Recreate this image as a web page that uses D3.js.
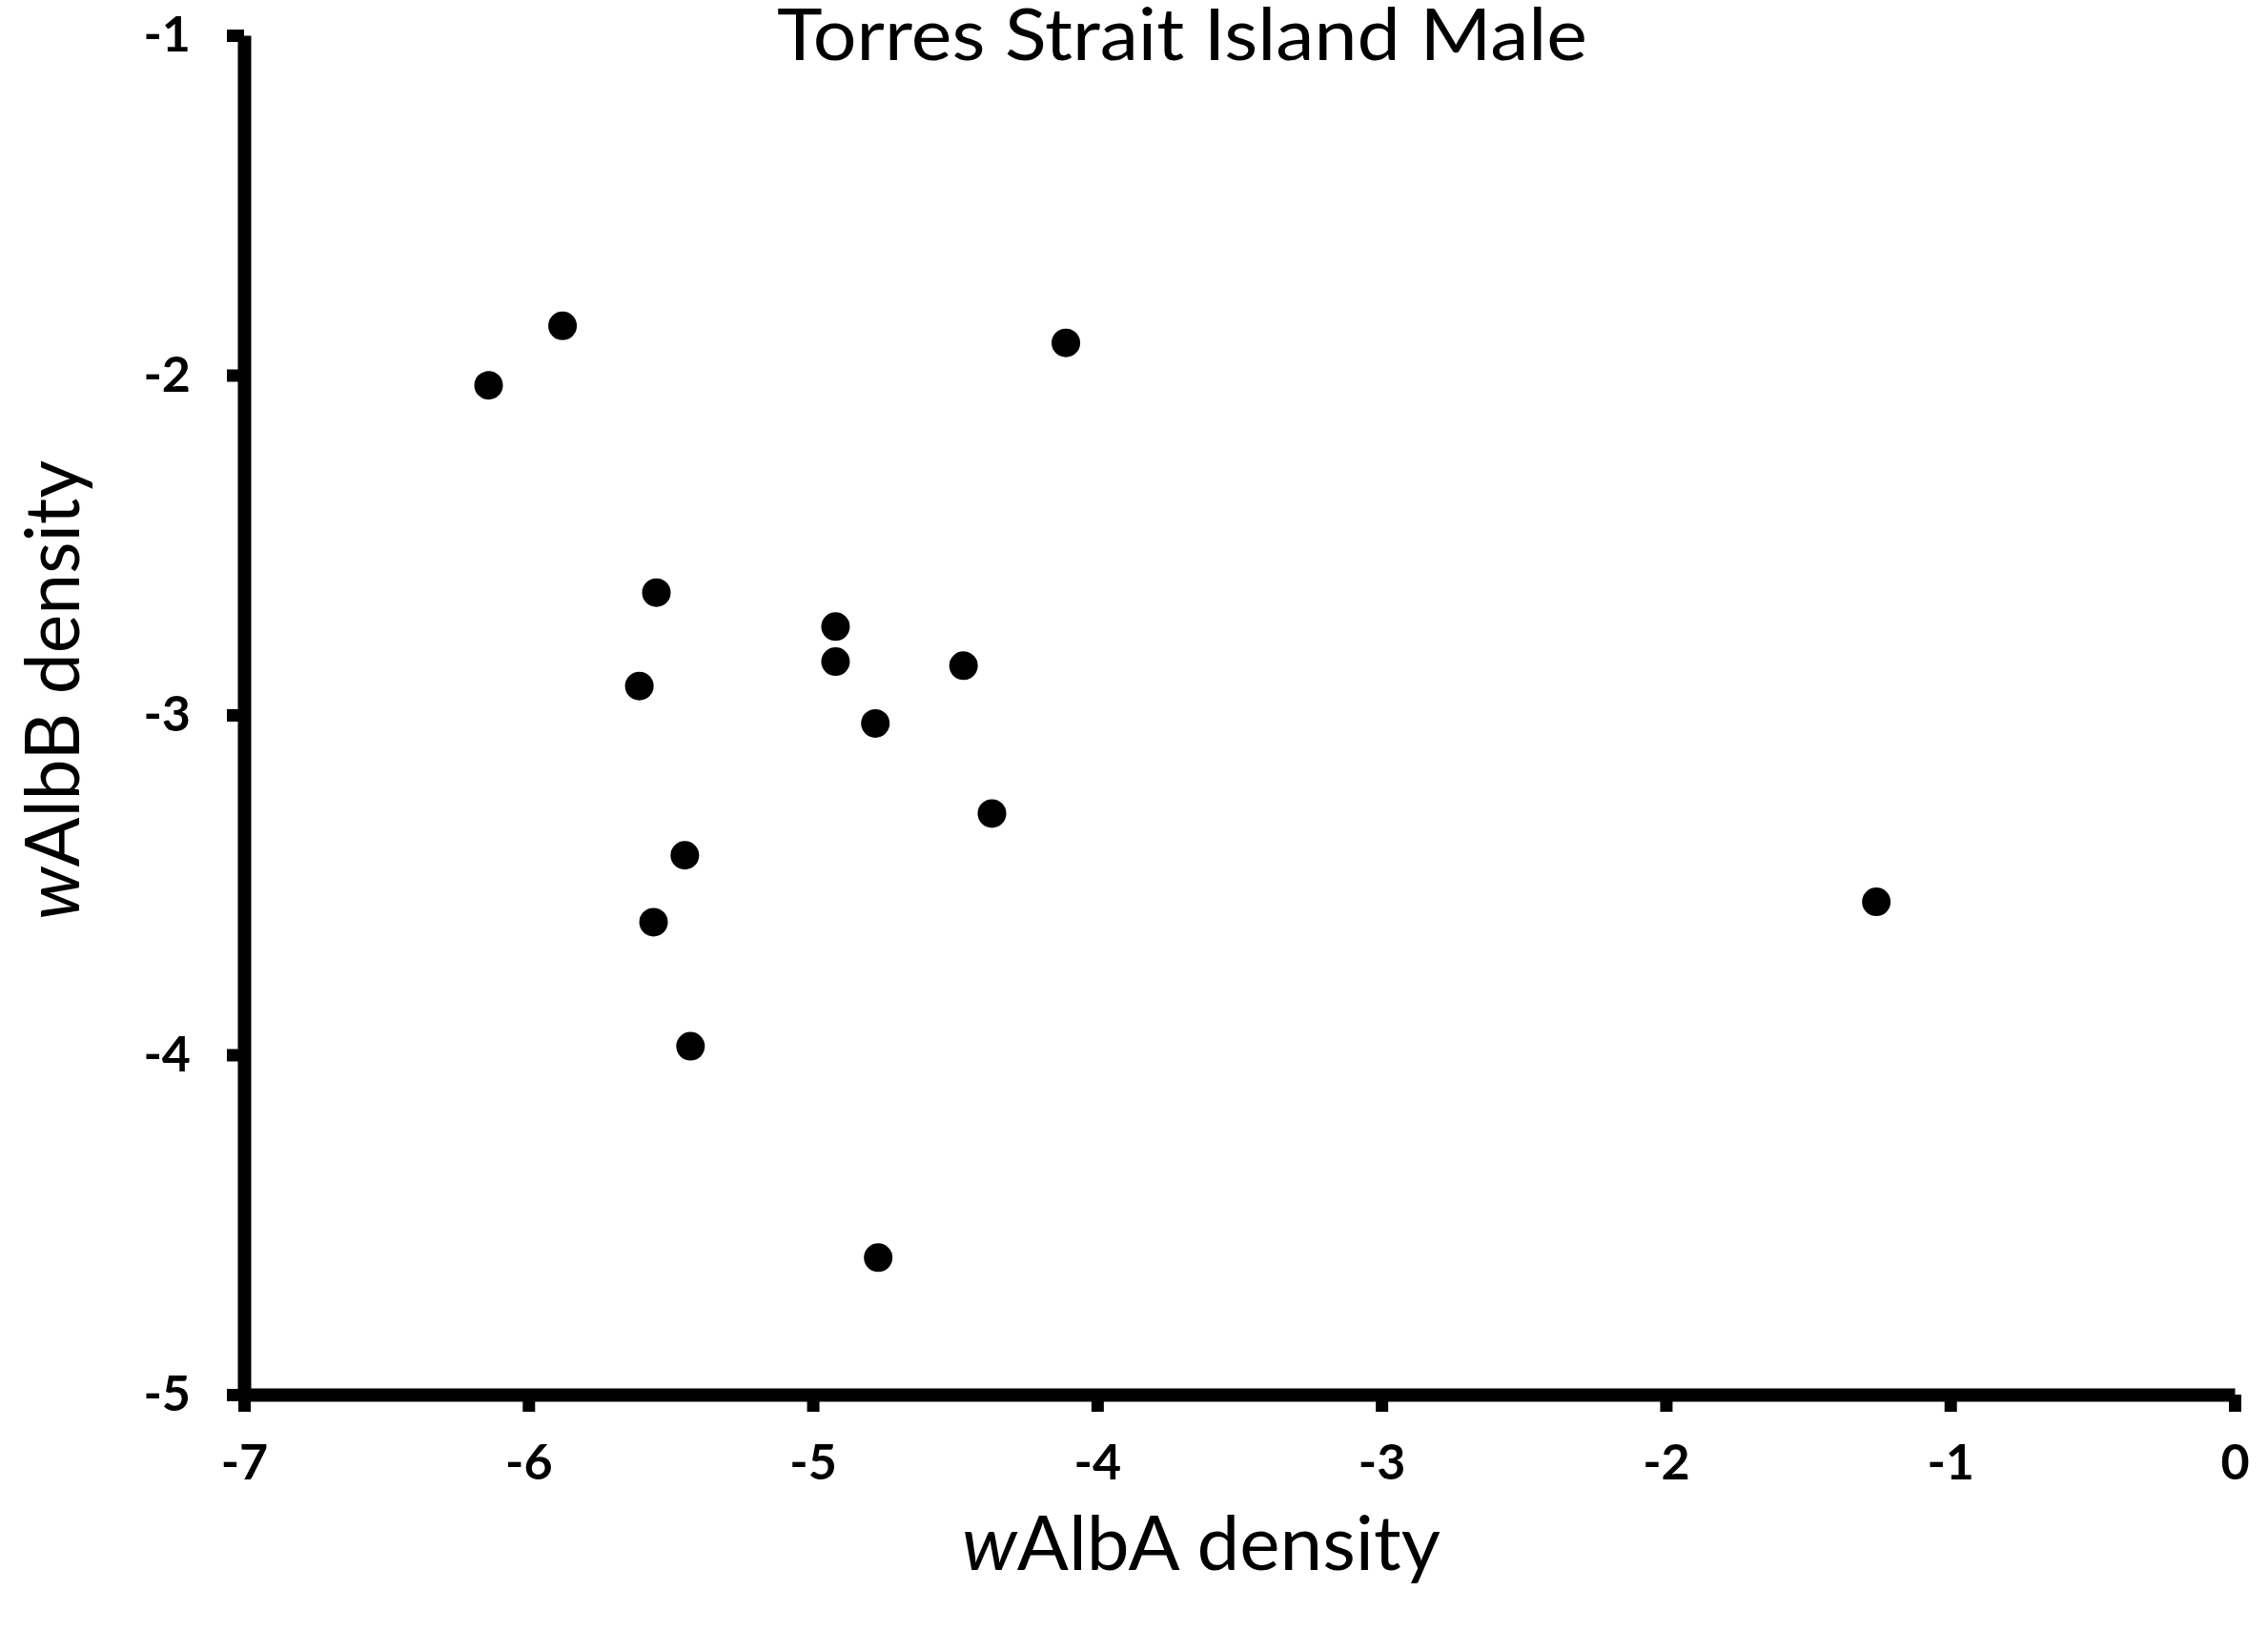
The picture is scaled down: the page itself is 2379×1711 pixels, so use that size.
<!DOCTYPE html>
<html>
<head>
<meta charset="utf-8">
<script src="https://cdn.jsdelivr.net/npm/d3@7"></script>
<style>
  body { margin: 0; background: #fff; }
  text { font-family: Lato, "Open Sans", sans-serif; fill: #000; }
</style>
</head>
<body>
<div id="chart"></div>
<script>
// wAlbA density (x) and wAlbB density (y) for each male
var walbA = [-6.14, -5.88, -4.11, -5.55, -4.92, -4.92, -4.47, -5.61, -4.78, -4.37, -5.45, -1.26, -5.56, -5.43, -4.77];
var walbB = [-2.03, -1.855, -1.905, -2.64, -2.74, -2.843, -2.855, -2.915, -3.025, -3.29, -3.413, -3.55, -3.61, -3.975, -4.597];

var xTicks = [-7, -6, -5, -4, -3, -2, -1, 0];
var xTickLabels = ["-7", "-6", "-5", "-4", "-3", "-2", "-1", "0"];
var yTicks = [-5, -4, -3, -2, -1];
var yTickLabels = ["-5", "-4", "-3", "-2", "-1"];

var title = "Torres Strait Island Male";

var W = 2379, H = 1711;

var svg = d3.select("#chart")
  .append("svg")
    .attr("width", W)
    .attr("height", H);

// scales
var x = d3.scaleLinear().domain([-7, 0]).range([256, 2344]);
var y = d3.scaleLinear().domain([-5, -1]).range([1463, 37]);

// X axis
var gx = svg.append("g")
  .attr("transform", "translate(0," + y(-5) + ")")
  .call(d3.axisBottom(x)
    .tickValues(xTicks)
    .tickSize(18)
    .tickSizeOuter(0)
    .tickPadding(34)
    .tickFormat(function(d, i) { return xTickLabels[i]; }));

// Y axis
var gy = svg.append("g")
  .attr("transform", "translate(" + x(-7) + ",0)")
  .call(d3.axisLeft(y)
    .tickValues(yTicks)
    .tickSize(18)
    .tickSizeOuter(0)
    .tickPadding(38)
    .tickFormat(function(d, i) { return yTickLabels[i]; }));

[gx, gy].forEach(function(g) {
  g.select(".domain").attr("stroke", "#000").attr("stroke-width", 14);
  g.selectAll(".tick line").attr("stroke", "#000").attr("stroke-width", 13);
  g.selectAll(".tick text")
    .attr("fill", "#000")
    .style("font-size", "52px")
    .style("font-weight", "bold");
});

// points
svg.selectAll("circle.dot")
  .data(walbA)
  .enter()
  .append("circle")
    .attr("class", "dot")
    .attr("cx", function(d) { return x(d); })
    .attr("cy", function(d, i) { return y(walbB[i]); })
    .attr("r", 15)
    .attr("fill", "#000");

// title
svg.append("text")
  .attr("x", 1240)
  .attr("y", 63)
  .attr("text-anchor", "middle")
  .attr("textLength", 850)
  .attr("lengthAdjust", "spacingAndGlyphs")
  .style("font-size", "76px")
  .text(title);

// x label
var xl = svg.append("text")
  .attr("x", 1260)
  .attr("y", 1647)
  .attr("text-anchor", "middle")
  .attr("textLength", 502)
  .attr("lengthAdjust", "spacingAndGlyphs")
  .style("font-size", "80px");
xl.append("tspan").style("font-style", "italic").text("w");
xl.append("tspan").text("AlbA density");

// y label
var yl = svg.append("text")
  .attr("transform", "translate(83,724) rotate(-90)")
  .attr("text-anchor", "middle")
  .attr("textLength", 482)
  .attr("lengthAdjust", "spacingAndGlyphs")
  .style("font-size", "80px");
yl.append("tspan").style("font-style", "italic").text("w");
yl.append("tspan").text("AlbB density");
</script>
</body>
</html>
